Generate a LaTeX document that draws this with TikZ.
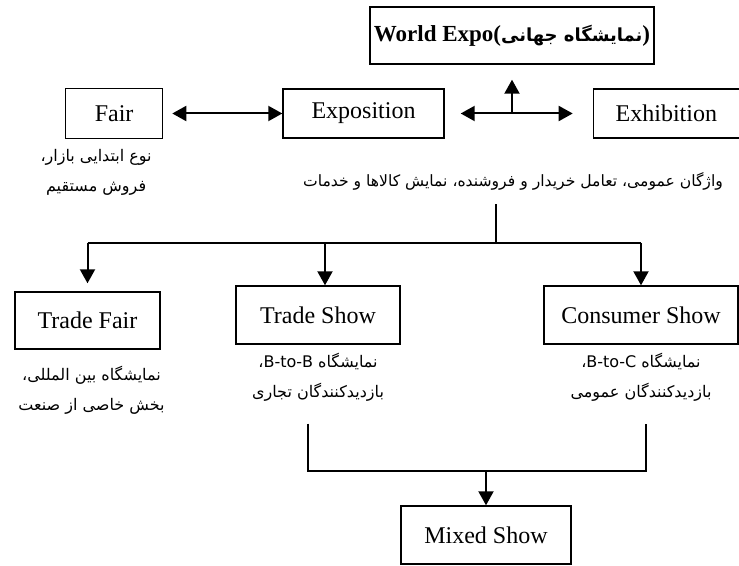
\documentclass[tikz,border=0pt]{standalone}
\usepackage{fontspec}
\setmainfont{Liberation Serif}
\newfontfamily\arabicfont[Script=Arabic]{DejaVu Sans}
\TeXXeTstate=1
\usetikzlibrary{arrows.meta,positioning}
\tikzset{
  box/.style  ={draw=black,line width=.7pt,align=center,
                font=\fontsize{12}{14}\selectfont,inner sep=2pt},
  note/.style ={align=center,font=\arabicfont\fontsize{8}{15}\selectfont,inner sep=1pt},
  a/.style    ={-{Triangle[length=7pt,width=7.5pt]},line width=1pt},
  ab/.style   ={{Triangle[length=7pt,width=7.5pt]}-{Triangle[length=7pt,width=7.5pt]},line width=1pt},
  ln/.style   ={line width=.65pt},
}

\begin{document}
\begin{tikzpicture}[x=.5pt,y=-.5pt]
  \useasboundingbox (0,0) rectangle (739,566);

  % --- top row ---
  \node[box,minimum width=80.5pt,minimum height=24.5pt] (expos) at (363.5,113.5) {Exposition};
  \node[box,left=59.5pt of expos,minimum width=48.5pt,minimum height=25pt] (fair) {Fair};
  \node[box,right=74pt of expos,minimum width=73pt,minimum height=24.5pt] (exhib) {Exhibition};
  \node[box,font=\bfseries\fontsize{11.5}{14}\selectfont,minimum width=133pt,minimum height=28.5pt]
        (wexpo) at (512,35.5)
        {World Expo({\arabicfont\fontsize{9}{12}\selectfont\beginR نمایشگاه جهانی\endR})};

  \node[note,below=4pt of fair,xshift=-9pt] (fairnote)
        {\beginR نوع ابتدایی بازار،\endR\\ \beginR فروش مستقیم\endR};
  \node[note,font=\arabicfont\fontsize{7.8}{15}\selectfont] (gennote) at (513,181)
        {\beginR واژگان عمومی، تعامل خریدار و فروشنده، نمایش کالاها و خدمات\endR};

  % --- second row ---
  \node[box,minimum width=72.5pt,minimum height=28.5pt] (tfair) at (87.5,320.5) {Trade Fair};
  \node[box,minimum width=82pt,minimum height=29pt] (tshow) at (318,315) {Trade Show};
  \node[box,minimum width=97pt,minimum height=29pt] (cshow) at (641,315) {Consumer Show};

  \node[note,below=7pt of tfair,xshift=2pt] (tfairnote)
        {\beginR نمایشگاه بین المللی،\endR\\ \beginR بخش خاصی از صنعت\endR};
  \node[note,below=3pt of tshow] (tshownote)
        {\beginR نمایشگاه \beginL B-to-B\endL،\endR\\ \beginR بازدیدکنندگان تجاری\endR};
  \node[note,below=3pt of cshow] (cshownote)
        {\beginR نمایشگاه \beginL B-to-C\endL،\endR\\ \beginR بازدیدکنندگان عمومی\endR};

  \node[box,minimum width=85pt,minimum height=29pt] (mixed) at (486,535) {Mixed Show};

  % arrows
  \coordinate (hub) at (wexpo.south |- expos.east);
  \draw[ab] ([xshift=4.5pt]fair.east) -- (fair.east -| expos.west);
  \draw[ab] ([xshift=8pt]expos.east) -- ([xshift=-10pt]exhib.west);
  \draw[a] (hub) -- ([yshift=-7.5pt]wexpo.south);

  \coordinate (split) at (496,243);
  \draw[ln] ([yshift=-6pt]split |- gennote.south) -- (split);
  \draw[ln] (tfair.north |- split) -- (cshow.north |- split);
  \draw[a] (tfair.north |- split) -- ([yshift=4pt]tfair.north);
  \draw[a] ([xshift=3.5pt]tshow.north |- split) -- ([xshift=3.5pt]tshow.north);
  \draw[a] (cshow.north |- split) -- (cshow.north);

  \coordinate (join) at (486,471);
  \draw[ln] ([xshift=-5pt,yshift=-10pt]tshownote.south) |- (join)
        -| ([xshift=2.5pt,yshift=-10pt]cshownote.south);
  \draw[a] (join) -- (mixed.north);
\end{tikzpicture}
\end{document}
